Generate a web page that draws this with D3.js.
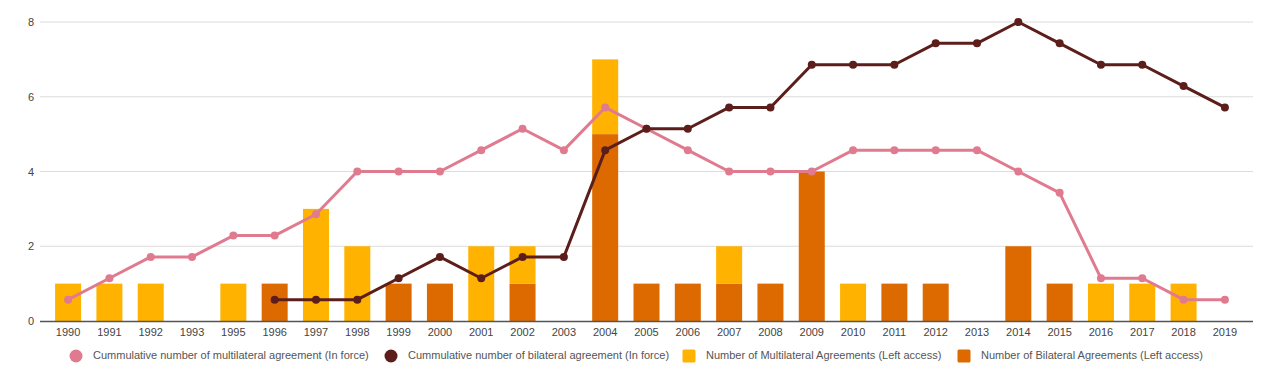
<!DOCTYPE html>
<html><head><meta charset="utf-8">
<script src="https://cdn.jsdelivr.net/npm/d3@7"></script>
<style>body{margin:0;background:#fff;font-family:Arial,"Liberation Sans",sans-serif;}</style>
</head><body><svg id="c" width="1272" height="383"></svg>
<script>
const years = ["1990","1991","1992","1993","1995","1996","1997","1998","1999","2000","2001","2002","2003","2004","2005","2006","2007","2008","2009","2010","2011","2012","2013","2014","2015","2016","2017","2018","2019"];
const multiBars = [1,1,1,0,1,0,3,2,0,0,2,1,0,2,0,0,1,0,0,1,0,0,0,0,0,1,1,1,0];
const bilatBars = [0,0,0,0,0,1,0,0,1,1,0,1,0,5,1,1,1,1,4,0,1,1,0,2,1,0,0,0,0];
const cumMulti = [1,2,3,3,4,4,5,7,7,7,8,9,8,10,9,8,7,7,7,8,8,8,8,7,6,2,2,1,1];
const cumBilat = [null,null,null,null,null,1,1,1,2,3,2,3,3,8,9,9,10,10,12,12,12,13,13,14,13,12,12,11,10];
const leftTicks = [0,2,4,6,8];
const seriesNames = ["Cummulative number of multilateral agreement (In force)","Cummulative number of bilateral agreement (In force)","Number of Multilateral Agreements (Left access)","Number of Bilateral Agreements (Left access)"];
const colors = ["#e07b8f","#5c1e1a","#ffb300","#dd6a00"];

const svg = d3.select("#c");
const L=40,R=1253,T=22,B=321;
const x = d3.scalePoint().domain(years).range([L,R]).padding(0.68);
const bw = 26;
const y = d3.scaleLinear().domain([0,8]).range([B,T]);
const y2 = d3.scaleLinear().domain([0,14]).range([B,T]);

// gridlines
svg.append("g").selectAll("line").data(leftTicks.filter(d=>d>0)).join("line")
  .attr("x1",L).attr("x2",R).attr("y1",d=>y(d)).attr("y2",d=>y(d))
  .attr("stroke","#dcdcdc").attr("stroke-width",1);
svg.append("g").selectAll("text").data(leftTicks).join("text")
  .attr("x",34).attr("y",d=>y(d)+4).attr("text-anchor","end")
  .attr("font-size",11).attr("fill","#444").text(d=>d);

// bars
const bars = svg.append("g");
years.forEach((yr,i)=>{
  const cx = x(yr);
  if(bilatBars[i]>0) bars.append("rect").attr("x",cx-bw/2).attr("width",bw)
    .attr("y",y(bilatBars[i])).attr("height",y(0)-y(bilatBars[i])).attr("fill",colors[3]);
  if(multiBars[i]>0) bars.append("rect").attr("x",cx-bw/2).attr("width",bw)
    .attr("y",y(bilatBars[i]+multiBars[i])).attr("height",y(bilatBars[i])-y(bilatBars[i]+multiBars[i])).attr("fill",colors[2]);
});

// baseline
svg.append("line").attr("x1",L).attr("x2",R).attr("y1",B+0.5).attr("y2",B+0.5).attr("stroke","#555").attr("stroke-width",1.5);

// x labels
svg.append("g").selectAll("text").data(years).join("text")
  .attr("x",d=>x(d)).attr("y",336).attr("text-anchor","middle")
  .attr("font-size",11).attr("fill","#444").text(d=>d);

// lines
function drawLine(vals,col){
  const pts = years.map((yr,i)=>({yr,v:vals[i]})).filter(d=>d.v!=null);
  const line = d3.line().x(d=>x(d.yr)).y(d=>y2(d.v));
  svg.append("path").datum(pts).attr("d",line).attr("fill","none").attr("stroke",col).attr("stroke-width",3).attr("stroke-linejoin","round");
  svg.append("g").selectAll("circle").data(pts).join("circle")
    .attr("cx",d=>x(d.yr)).attr("cy",d=>y2(d.v)).attr("r",4).attr("fill",col);
}
drawLine(cumMulti,colors[0]);
drawLine(cumBilat,colors[1]);

// legend
const lg = svg.append("g");
const lx = [76,391,689,964];
seriesNames.forEach((n,i)=>{
  if(i<2) lg.append("circle").attr("cx",lx[i]).attr("cy",356).attr("r",6.5).attr("fill",colors[i]);
  else lg.append("rect").attr("x",lx[i]-6.5).attr("y",349.5).attr("width",13).attr("height",13).attr("rx",1.5).attr("fill",colors[i]);
  lg.append("text").attr("x",lx[i]+17).attr("y",359).attr("font-size",11).attr("fill","#555").text(n);
});
</script></body></html>
